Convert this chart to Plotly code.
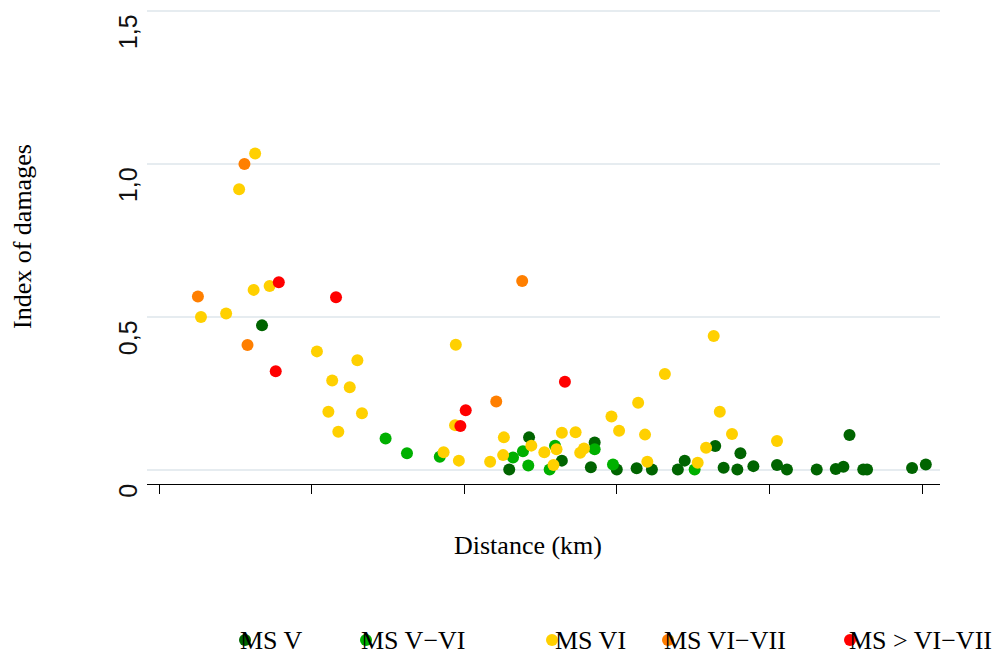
import plotly.graph_objects as go

# ---- data (distance in km, index of damages) ----
ms5_x = [13.5, 45.9, 48.5, 52.8, 57.1, 56.6, 60.0, 62.6, 64.6, 68.0, 68.9, 72.9, 74.0,
         75.8, 76.2, 77.9, 81.0, 82.3, 86.2, 88.7, 89.7, 90.5, 92.3, 92.8, 98.7, 100.5]
ms5_y = [0.471, 0.0, 0.105, 0.029, 0.088, 0.007, 0.0, 0.004, 0.0, 0.0, 0.029, 0.077, 0.006,
         0.0, 0.053, 0.011, 0.015, 0.0, 0.0, 0.002, 0.009, 0.113, 0.0, 0.0, 0.005, 0.016]

ms56_x = [29.7, 32.5, 36.8, 46.4, 47.7, 48.4, 51.9, 51.2, 57.1, 59.5, 70.2]
ms56_y = [0.101, 0.053, 0.042, 0.039, 0.060, 0.013, 0.078, 0.0, 0.066, 0.016, 0.0]

ms6_x = [12.6, 10.5, 5.5, 8.8, 12.4, 14.5, 20.7, 26.0, 22.7, 25.0, 22.2, 26.6, 23.5, 37.3,
         38.9, 38.8, 39.3, 43.4, 45.2, 45.1, 48.8, 50.5, 52.1, 51.7, 52.8, 54.6, 55.2, 55.7,
         59.3, 60.3, 62.8, 63.7, 64.0, 66.3, 72.7, 73.5, 71.7, 70.6, 75.1, 81.0]
ms6_y = [1.033, 0.916, 0.498, 0.510, 0.587, 0.600, 0.386, 0.357, 0.291, 0.269, 0.189, 0.184,
         0.123, 0.056, 0.408, 0.145, 0.029, 0.025, 0.105, 0.047, 0.078, 0.056, 0.066, 0.015,
         0.120, 0.122, 0.055, 0.069, 0.173, 0.127, 0.218, 0.114, 0.025, 0.312, 0.436, 0.189,
         0.071, 0.022, 0.116, 0.093]

ms67_x = [11.2, 5.1, 11.6, 44.2, 47.6]
ms67_y = [0.998, 0.565, 0.407, 0.222, 0.616]

ms7_x = [15.7, 23.2, 15.3, 40.2, 39.5, 53.2]
ms7_y = [0.612, 0.563, 0.321, 0.194, 0.142, 0.287]

series_names = ["MS V", "MS V\u2212VI", "MS VI", "MS VI\u2212VII", "MS > VI\u2212VII"]
series_colors = ["#006400", "#00B000", "#FFD000", "#FF7F00", "#FF0000"]
series_x = [ms5_x, ms56_x, ms6_x, ms67_x, ms7_x]
series_y = [ms5_y, ms56_y, ms6_y, ms67_y, ms7_y]

x_ticks = [0, 20, 40, 60, 80, 100]
y_ticks = [0, 0.5, 1.0, 1.5]
y_tick_text = ["0", "0,5", "1,0", "1,5"]

# legend label positions (pixels)
legend_text_px = [238, 359, 553, 662, 847]
legend_dot_px = [245, 366, 552, 668, 850]

W, H = 1000, 656
ML, MR, MT, MB = 147, 60, 5, 172
PW, PH = W - ML - MR, H - MT - MB

fig = go.Figure()
for name, col, xs, ys in zip(series_names, series_colors, series_x, series_y):
    fig.add_trace(go.Scatter(x=xs, y=ys, mode="markers", name=name,
                             marker=dict(color=col, size=12, line=dict(width=0)),
                             showlegend=False, hoverinfo="x+y"))

serif = "Liberation Serif"

def px_to_paper_x(px):
    return (px - ML) / PW

def px_to_paper_y(py):
    return (H - MB - py) / PH

annotations = [
    dict(text="Index of damages", x=px_to_paper_x(22), y=px_to_paper_y(237),
         xref="paper", yref="paper", showarrow=False, textangle=-90,
         font=dict(family=serif, size=26, color="#000000"),
         xanchor="center", yanchor="middle"),
    dict(text="Distance (km)", x=px_to_paper_x(528), y=px_to_paper_y(545),
         xref="paper", yref="paper", showarrow=False,
         font=dict(family=serif, size=26, color="#000000"),
         xanchor="center", yanchor="middle"),
]
shapes = []
for name, col, tx, dx in zip(series_names, series_colors, legend_text_px, legend_dot_px):
    shapes.append(dict(type="circle", xref="paper", yref="paper", layer="below",
                       xsizemode="pixel", ysizemode="pixel",
                       xanchor=px_to_paper_x(dx), yanchor=px_to_paper_y(640),
                       x0=-6, x1=6, y0=-6, y1=6,
                       fillcolor=col, line=dict(width=0)))
    annotations.append(dict(text=name, x=px_to_paper_x(tx), y=px_to_paper_y(640),
                            xref="paper", yref="paper", showarrow=False,
                            xanchor="left", yanchor="middle",
                            font=dict(family=serif, size=26, color="#000000")))

x_lo = -12 / 7.63
x_hi = 781 / 7.63
y_lo = -14.5 / 306
y_hi = 464.5 / 306

fig.update_layout(
    width=W, height=H,
    margin=dict(l=ML, r=MR, t=MT, b=MB),
    paper_bgcolor="white", plot_bgcolor="white",
    showlegend=False,
    annotations=annotations,
    shapes=shapes,
    xaxis=dict(range=[x_lo, x_hi], tickvals=x_ticks, showticklabels=False,
               ticks="outside", ticklen=9, tickwidth=1, tickcolor="#000000",
               showline=True, linecolor="#000000", linewidth=1,
               showgrid=False, zeroline=False, fixedrange=True),
    yaxis=dict(range=[y_lo, y_hi], tickvals=y_ticks, ticktext=y_tick_text,
               tickangle=-90, ticklabelshift=25, ticklabelstandoff=4,
               tickfont=dict(family="Liberation Sans", size=25, color="#111111"),
               showline=False, ticks="",
               showgrid=True, gridcolor="#E6ECF0", gridwidth=2,
               zeroline=False, fixedrange=True),
)

fig.write_html("out.html")
